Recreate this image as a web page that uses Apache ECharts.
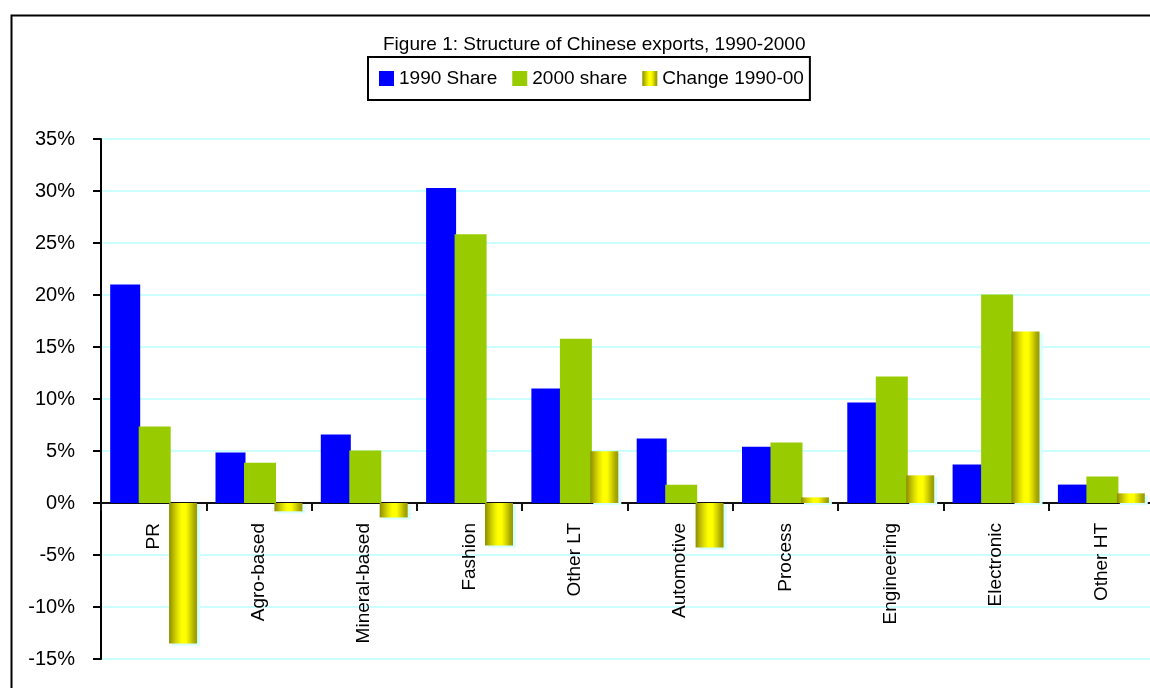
<!DOCTYPE html>
<html>
<head>
<meta charset="utf-8">
<script src="https://cdn.jsdelivr.net/npm/echarts@6/dist/echarts.min.js"></script>
<style>
html,body{margin:0;padding:0;background:#fff;}
#chart{width:1150px;height:688px;}
</style>
</head>
<body>
<div id="chart"></div>
<script>
const categories = ['PR','Agro-based','Mineral-based','Fashion','Other LT','Automotive','Process','Engineering','Electronic','Other HT'];
const share1990 = [21.0, 4.85, 6.58, 30.28, 11.0, 6.19, 5.42, 9.66, 3.69, 1.77];
const share2000 = [7.35, 3.88, 5.04, 25.85, 15.8, 1.76, 5.81, 12.17, 20.06, 2.54];
const change9000 = [-13.5, -0.8, -1.39, -4.08, 4.97, -4.27, 0.54, 2.66, 16.5, 0.93];
const seriesNames = ['1990 Share', '2000 share', 'Change 1990-00'];
const yTicks = {min: -15, max: 35, interval: 5};

const narrow = "'Liberation Sans Narrow', 'Arial Narrow', 'Liberation Sans', Arial, sans-serif";
const regular = "'Liberation Sans', Arial, sans-serif";

const yellowGrad = new echarts.graphic.LinearGradient(0, 0, 1, 0, [
  {offset: 0, color: '#8c8c00'},
  {offset: 0.15, color: '#b8b800'},
  {offset: 0.3, color: '#e0e000'},
  {offset: 0.45, color: '#ffff00'},
  {offset: 0.6, color: '#ffff00'},
  {offset: 0.75, color: '#d6d600'},
  {offset: 0.9, color: '#a8a800'},
  {offset: 1, color: '#999900'}
]);

const gridTop = 139, gridBottomPx = 659, zeroPx = 503;

const chart = echarts.init(document.getElementById('chart'), null, {renderer: 'canvas'});
chart.setOption({
  animation: false,
  backgroundColor: '#fff',
  title: {
    text: 'Figure 1: Structure of Chinese exports, 1990-2000',
    left: 378, top: 30,
    textStyle: {fontFamily: narrow, fontSize: 19, fontWeight: 'normal', color: '#000'}
  },
  legend: {
    left: 368, top: 57,
    padding: [12, 6, 12, 11],
    borderColor: '#000', borderWidth: 2,
    icon: 'rect',
    itemWidth: 15, itemHeight: 15, itemGap: 15,
    textStyle: {fontFamily: narrow, fontSize: 19, color: '#000'},
    data: [
      {name: seriesNames[0]},
      {name: seriesNames[1]},
      {name: seriesNames[2], itemStyle: {color: yellowGrad}}
    ]
  },
  graphic: [{
    type: 'rect', left: 9, top: 13, silent: true,
    shape: {x: 0, y: 0, width: 1200, height: 720},
    style: {fill: 'none', stroke: '#000', lineWidth: 2}
  }],
  grid: {left: 101, top: gridTop, width: 1053, height: gridBottomPx - gridTop, containLabel: false, outerBoundsMode: 'none'},
  xAxis: {
    type: 'category',
    data: categories,
    position: 'bottom',
    offset: -(gridBottomPx - zeroPx),
    boundaryGap: true,
    axisLine: {onZero: false, lineStyle: {color: '#111', width: 2}},
    axisTick: {show: true, interval: 0, length: 8, lineStyle: {color: '#111', width: 2}},
    axisLabel: {rotate: 90, margin: 20, interval: 0, fontFamily: regular, fontSize: 19, color: '#000'},
    splitLine: {show: false}
  },
  yAxis: {
    type: 'value',
    min: yTicks.min, max: yTicks.max, interval: yTicks.interval,
    axisLine: {show: true, lineStyle: {color: '#000', width: 2}},
    axisTick: {show: true, length: 8, lineStyle: {color: '#000', width: 2}},
    axisLabel: {formatter: '{value}%', margin: 26, fontFamily: narrow, fontSize: 20, color: '#000'},
    splitLine: {show: true, lineStyle: {color: '#ccffff', width: 2}}
  },
  series: [
    {name: seriesNames[0], type: 'bar', data: share1990, barWidth: 30, barGap: '0%',
     itemStyle: {color: '#0000ff'}},
    {name: seriesNames[1], type: 'bar', data: share2000, barWidth: 32, barGap: '0%',
     itemStyle: {color: '#99cc00'}},
    {name: seriesNames[2], type: 'bar', data: change9000, barWidth: 28, barGap: '-5%',
     itemStyle: {color: yellowGrad, shadowColor: '#d8ffff', shadowBlur: 0, shadowOffsetX: 3, shadowOffsetY: 2}}
  ]
});
</script>
</body>
</html>
